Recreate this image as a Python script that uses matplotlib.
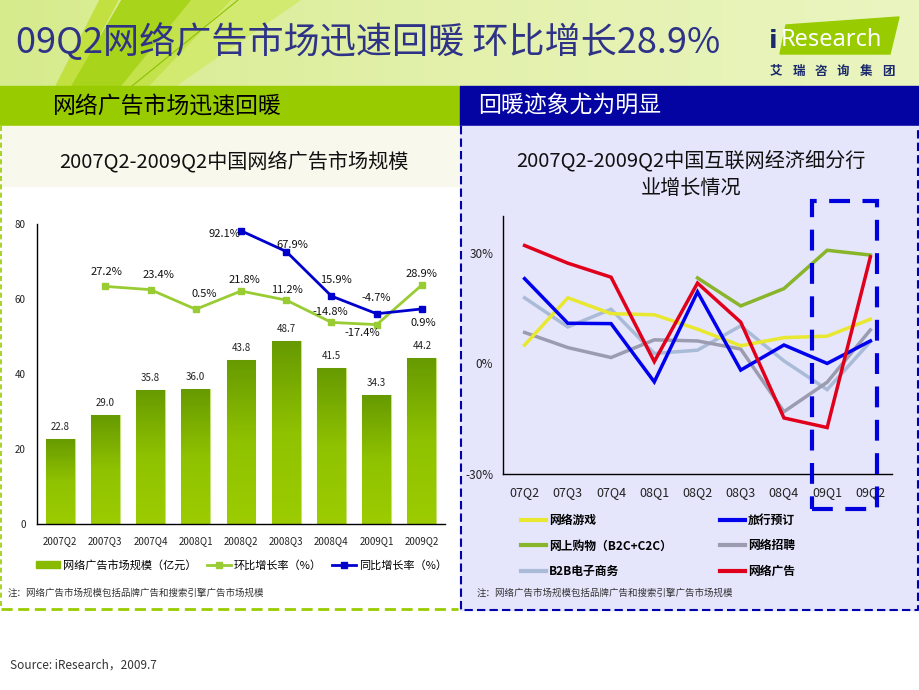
import matplotlib
matplotlib.use('Agg')
import matplotlib.pyplot as plt
import numpy as np
from matplotlib.patches import Rectangle, Polygon, Patch
from matplotlib.lines import Line2D
from matplotlib.colors import LinearSegmentedColormap

plt.rcParams['font.family'] = ['Noto Sans CJK SC', 'DejaVu Sans']
plt.rcParams['axes.unicode_minus'] = False

W, H = 920, 690

# ---------------- data: left chart ----------------
quarters = ['2007Q2', '2007Q3', '2007Q4', '2008Q1', '2008Q2',
            '2008Q3', '2008Q4', '2009Q1', '2009Q2']
market_size = [22.8, 29.0, 35.8, 36.0, 43.8, 48.7, 41.5, 34.3, 44.2]
qoq_growth = [np.nan, 27.2, 23.4, 0.5, 21.8, 11.2, -14.8, -17.4, 28.9]
yoy_growth = [np.nan, np.nan, np.nan, np.nan, 92.1, 67.9, 15.9, -4.7, 0.9]

# ---------------- data: right chart ----------------
short_q = ['07Q2', '07Q3', '07Q4', '08Q1', '08Q2', '08Q3', '08Q4', '09Q1', '09Q2']
online_game = [5.0, 17.8, 13.5, 13.2, 9.3, 4.8, 7.0, 7.4, 12.0]
travel = [23.0, 10.9, 10.8, -5.0, 19.4, -1.8, 5.0, 0.0, 6.1]
shopping = [np.nan, np.nan, np.nan, np.nan, 23.2, 15.6, 20.3, 30.7, 29.4]
recruit = [8.4, 4.3, 1.6, 6.4, 6.1, 3.9, -13.1, -5.1, 9.1]
b2b = [17.8, 9.9, 14.7, 2.7, 3.6, 10.2, 0.7, -7.1, 5.9]
online_ad = [32.0, 27.2, 23.4, 0.5, 21.8, 11.2, -14.8, -17.4, 28.9]

# label offsets (pixels) for the growth labels
qoq_off = [None, (1, 14), (8, 15), (8, 15), (3, 11), (1, 10), (-1, 10), (-14, -8), (0, 11)]
yoy_off = [None, None, None, None, (-17, -3), (6, 7), (4, 16), (0, 16), (1, -14)]


def fx(px):
    return px / W


def fy(py):
    return 1 - py / H


fig = plt.figure(figsize=(9.2, 6.9), dpi=100)

# ---------------- background / decoration ----------------
bg = fig.add_axes([0, 0, 1, 1])
bg.set_zorder(0)
bg.axis('off')

hdr_cmap = LinearSegmentedColormap.from_list('hdr', ['#d6eb8c', '#e3f1ac', '#eaf5c0'])
bg.imshow(np.linspace(0, 1, 256).reshape(1, -1), extent=(0, W, 86, 0),
          cmap=hdr_cmap, aspect='auto', zorder=0)
# stripes on left of header
bg.add_patch(Polygon([(56, 86), (72, 86), (118, 0), (100, 0)], color='#c2e040', zorder=1))
bg.add_patch(Polygon([(72, 86), (122, 86), (192, 0), (122, 0)], color='#a9d41c', zorder=1))
bg.add_patch(Polygon([(122, 86), (150, 86), (232, 0), (192, 0)], color='#c4e24c', zorder=1))
bg.add_patch(Polygon([(150, 86), (175, 86), (300, 0), (232, 0)], color='#d2ea70', zorder=1))
bg.plot([132, 238], [86, 0], color='#8cc000', lw=0.8, zorder=1)

# logo
bg.add_patch(Polygon([(780, 54), (890, 54), (899, 17), (786, 25)], color='#99cc00', zorder=2))
bg.text(769, 41, 'i', color='#1a2a6c', fontsize=18, fontweight='bold',
        va='center', ha='left', zorder=3, family=['DejaVu Sans'])
bg.text(781, 40, 'Research', color='white', fontsize=17, va='center', ha='left',
        zorder=3, family=['Noto Sans', 'DejaVu Sans'])
for i, ch in enumerate('艾瑞咨询集团'):
    bg.text(776 + i * 22.4, 71, ch, color='#1a2a6c', fontsize=9, fontweight='bold',
            va='center', ha='center', zorder=3)

# header bands
bg.add_patch(Rectangle((0, 86), 460, 40, color='#99cc00', zorder=1))
bg.add_patch(Rectangle((460, 86), 460, 40, color='#0404a2', zorder=1))
bg.text(53, 106, '网络广告市场迅速回暖', fontsize=16.5, color='black', va='center', zorder=3)
bg.text(478, 106, '回暖迹象尤为明显', fontsize=16.5, color='white', va='center', zorder=3)

# panels
bg.add_patch(Rectangle((0, 126), 459, 60, color='#f8f9ec', zorder=1))
bg.add_patch(Rectangle((460, 126), 459, 484, color='#e5e5fc', zorder=1))
bg.plot([1, 1], [126, 609], color='#99cc00', ls=(0, (3, 2)), lw=1.2, zorder=2)
bg.plot([1, 458], [609, 609], color='#99cc00', ls=(0, (4, 2)), lw=2, zorder=2)
bg.plot([461, 461, 918, 918], [126, 610, 610, 126], color='#0000aa',
        ls=(0, (4, 2)), lw=1.5, zorder=2)

bg.set_xlim(0, W)
bg.set_ylim(H, 0)

# title
bg.text(16, 42, '09Q2网络广告市场迅速回暖 环比增长28.9%', fontsize=26,
        color='#2e3388', va='center', ha='left', zorder=3)

# panel titles
bg.text(234, 162, '2007Q2-2009Q2中国网络广告市场规模', fontsize=14.5,
        fontweight='medium', ha='center', va='center', color='#111', zorder=3)
bg.text(691, 161, '2007Q2-2009Q2中国互联网经济细分行', fontsize=14.5,
        fontweight='medium', ha='center', va='center', color='#111', zorder=3)
bg.text(691, 189, '业增长情况', fontsize=14.5,
        fontweight='medium', ha='center', va='center', color='#111', zorder=3)

# notes
note = '注：网络广告市场规模包括品牌广告和搜索引擎广告市场规模'
bg.text(8, 593, note, fontsize=6.8, color='#333', va='center', zorder=3)
bg.text(477, 593, note, fontsize=6.8, color='#333', va='center', zorder=3)
bg.text(10, 665, 'Source: iResearch，2009.7', fontsize=8.5, color='#333',
        va='center', zorder=3)

# ---------------- left chart ----------------
x = np.arange(len(quarters))
ax1 = fig.add_axes([fx(37), fy(524), fx(445 - 37), 300 / H])
ax1.set_zorder(2)
ax1.patch.set_alpha(0)

bars = ax1.bar(x, market_size, width=0.64, color='#88bb00', edgecolor='#c8e27a',
               lw=0.8, zorder=2)
bar_cmap = LinearSegmentedColormap.from_list('bar', ['#9ccc00', '#8fc200', '#679a00'])
for b in bars:
    x0, w, h = b.get_x(), b.get_width(), b.get_height()
    im = ax1.imshow(np.linspace(0, 1, 100).reshape(-1, 1), extent=[x0, x0 + w, 0, h],
                    origin='lower', cmap=bar_cmap, aspect='auto', zorder=2.5)
    im.set_clip_path(b)
for xi, v in zip(x, market_size):
    ax1.annotate(f'{v:.1f}', (xi, v), xytext=(0, 12), textcoords='offset pixels',
                 ha='center', va='center', fontsize=7, color='#222')

ax1.set_xlim(-0.51, 8.51)
ax1.set_ylim(0, 80)
ax1.set_yticks([0, 20, 40, 60, 80])
ax1.set_xticks(x)
ax1.set_xticklabels(quarters)
ax1.tick_params(axis='both', length=0, labelsize=7, colors='#222')
ax1.tick_params(axis='x', pad=9)
ax1.tick_params(axis='y', pad=8)
for s in ['top', 'right']:
    ax1.spines[s].set_visible(False)
for s in ['left', 'bottom']:
    ax1.spines[s].set_color('black')
    ax1.spines[s].set_linewidth(1)

ax2 = ax1.twinx()
ax2.set_ylim(-250, 100)
ax2.axis('off')
qoq_color = '#99cc33'
yoy_color = '#0000cc'
ax2.plot(x, qoq_growth, color=qoq_color, lw=2, marker='s', ms=5, zorder=3)
ax2.plot(x, yoy_growth, color=yoy_color, lw=2, marker='s', ms=5, zorder=3)
for xi, v, off in zip(x, qoq_growth, qoq_off):
    if off is not None:
        ax2.annotate(f'{v:.1f}%', (xi, v), xytext=off, textcoords='offset pixels',
                     ha='center', va='center', fontsize=8, color='#111')
for xi, v, off in zip(x, yoy_growth, yoy_off):
    if off is not None:
        ax2.annotate(f'{v:.1f}%', (xi, v), xytext=off, textcoords='offset pixels',
                     ha='center', va='center', fontsize=8, color='#111')

h_left = [Patch(facecolor='#88bb00', edgecolor='#88bb00'),
          Line2D([], [], color=qoq_color, lw=2, marker='s', ms=4),
          Line2D([], [], color=yoy_color, lw=2, marker='s', ms=4)]
fig.legend(h_left, ['网络广告市场规模（亿元）', '环比增长率（%）', '同比增长率（%）'],
           loc='center left', bbox_to_anchor=(fx(36), fy(565)), ncol=3, frameon=False,
           fontsize=8, handlelength=2.2, handleheight=0.6, handletextpad=0.25,
           columnspacing=0.9, borderpad=0, borderaxespad=0)

# ---------------- right chart ----------------
ax3 = fig.add_axes([fx(503), fy(474), fx(892 - 503), 258 / H])
ax3.set_zorder(2)
ax3.patch.set_alpha(0)
series = [
    ('B2B电子商务', b2b, '#a9bbd6'),
    ('网络招聘', recruit, '#9c9cb0'),
    ('网络游戏', online_game, '#e8e830'),
    ('网上购物（B2C+C2C）', shopping, '#88b52a'),
    ('旅行预订', travel, '#0000ee'),
    ('网络广告', online_ad, '#e0001b'),
]
lines = {}
for name, vals, col in series:
    ln, = ax3.plot(x, vals, color=col, lw=2.5, solid_joinstyle='miter')
    lines[name] = ln
ax3.set_xlim(-0.5, 8.5)
ax3.set_ylim(-30, 40)
ax3.set_yticks([-30, 0, 30])
ax3.set_yticklabels(['-30%', '0%', '30%'])
ax3.set_xticks(x)
ax3.set_xticklabels(short_q)
ax3.tick_params(axis='both', length=0, colors='#222')
ax3.tick_params(axis='x', labelsize=9, pad=9)
ax3.tick_params(axis='y', labelsize=8.5, pad=7)
for s in ['top', 'right']:
    ax3.spines[s].set_visible(False)
for s in ['left', 'bottom']:
    ax3.spines[s].set_color('black')
    ax3.spines[s].set_linewidth(1)

col1 = ['网络游戏', '网上购物（B2C+C2C）', 'B2B电子商务']
col2 = ['旅行预订', '网络招聘', '网络广告']
for names, xpos in [(col1, 521), (col2, 720)]:
    hs = [Line2D([], [], color=lines[n].get_color(), lw=3) for n in names]
    fig.legend(hs, names, loc='upper left', bbox_to_anchor=(fx(xpos), fy(514)),
               frameon=False, prop={'size': 8.5, 'weight': 'bold'},
               handlelength=2.1, handletextpad=0.25, labelspacing=1.05,
               borderpad=0, borderaxespad=0)

# highlight box around 09Q1-09Q2
fig.add_artist(Rectangle((fx(812), fy(509)), fx(877 - 812), (509 - 201) / H,
                         transform=fig.transFigure, fill=False, ec='#0000dd',
                         lw=3, ls=(0, (5, 3)), zorder=10))

fig.savefig('out.png', dpi=100)
